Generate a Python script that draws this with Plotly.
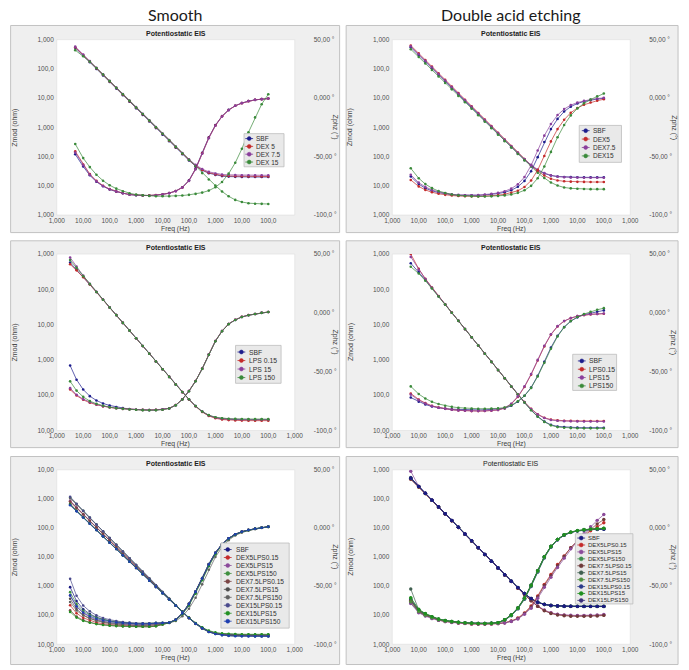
import plotly.graph_objects as go

# ---------------- data ----------------
FREQ_A = [0.005, 0.01, 0.0178, 0.0316, 0.0562, 0.1, 0.178, 0.316, 0.562, 1, 1.78, 3.16, 5.62, 10, 17.8, 31.6,
          56.2, 100, 178, 316, 562, 1000, 1780, 3160, 5620, 10000, 17800, 31600, 56200, 100000]
FREQ_B = [0.0032, 0.0056, 0.01, 0.0178, 0.0316, 0.0562, 0.1, 0.178, 0.316, 0.562, 1, 1.78, 3.16, 5.62, 10, 17.8,
          31.6, 56.2, 100, 178, 316, 562, 1000, 1780, 3160, 5620, 10000, 17800, 31600, 56200, 100000]

X_TICKVALS = [0.001, 0.01, 0.1, 1, 10, 100, 1000, 10000, 100000, 1000000]
X_TICKTEXT = ["1,000", "10,00", "100,0", "1,000", "10,00", "100,0", "1,000", "10,00", "100,0", "1,000"]
X_TICKTEXT_TL = ["1,000", "10,00", "100,0", "1,000", "10,00", "100,0", "1,000", "10,00", "100,0", ""]
Y_TICKVALS_1_1M = [1, 10, 100, 1000, 10000, 100000, 1000000]
Y_TICKTEXT_1_1M = ["1,000", "10,00", "100,0", "1,000", "10,00", "100,0", "1,000"]
Y_TICKVALS_10_1M = [10, 100, 1000, 10000, 100000, 1000000]
Y_TICKTEXT_10_1M = ["10,00", "100,0", "1,000", "10,00", "100,0", "1,000"]
Y_TICKVALS_10_10M = [10, 100, 1000, 10000, 100000, 1000000, 10000000]
Y_TICKTEXT_10_10M = ["10,00", "100,0", "1,000", "10,00", "100,0", "1,000", "10,00"]
PHZ_TICKVALS = [-100, -50, 0, 50]
PHZ_TICKTEXT = ["-100,0 °", "-50,00 °", "0,000 °", "50,00 °"]

# ---- Top-left: Smooth, DEX ----
TL_NAMES = ["SBF", "DEX 5", "DEX 7.5", "DEX 15"]
TL_SBF_ZMOD = [525000, 282000, 168000, 99800, 59500, 35500, 21100, 12600, 7500, 4470, 2660, 1590, 944, 563, 336, 201,
               121, 74, 47, 34, 27, 23.5, 21.5, 20.7, 20.3, 20.1, 20, 20, 20, 20]
TL_DEX5_ZMOD = [549000, 295000, 176000, 105000, 62300, 37100, 22100, 13200, 7860, 4680, 2790, 1660, 987, 589, 351, 210,
                126, 77, 49, 35, 28, 24.5, 22.5, 21.7, 21.3, 21.1, 21, 21, 21, 21]
TL_DEX75_ZMOD = [575000, 309000, 184000, 109000, 65300, 38900, 23100, 13800, 8230, 4900, 2920, 1740, 1030, 617, 367,
                 220, 132, 81, 52, 37.5, 30, 26.5, 24.5, 23.7, 23.3, 23.1, 23, 23, 23, 23]
TL_DEX15_ZMOD = [437000, 269000, 176000, 107000, 63800, 38000, 22600, 13500, 8040, 4790, 2850, 1700, 1010, 603, 359,
                 214, 127, 76, 45.5, 27.2, 16.5, 10.2, 6.4, 4.4, 3.3, 2.8, 2.55, 2.45, 2.42, 2.4]
TL_SBF_ZPHZ = [-48.0, -58.5, -66.0, -71.5, -75.4, -78.1, -80.0, -81.4, -82.5, -83.0, -83.3, -83.3, -83.0, -82.4, -81.2,
               -79.4, -76.2, -70.3, -60.2, -46.8, -33.6, -23.1, -15.4, -10.1, -6.5, -4.2, -2.5, -1.5, -0.9, -0.4]
TL_DEX5_ZPHZ = [-45.5, -56.8, -65.0, -70.8, -74.9, -77.8, -79.8, -81.2, -82.4, -82.9, -83.2, -83.2, -82.9, -82.4, -81.2,
                -79.5, -76.4, -70.6, -60.6, -47.2, -34.0, -23.4, -15.6, -10.2, -6.6, -4.3, -2.6, -1.5, -0.9, -0.4]
TL_DEX75_ZPHZ = [-46.5, -57.5, -65.5, -71.1, -75.1, -77.9, -79.9, -81.3, -82.5, -83.0, -83.3, -83.3, -83.0, -82.5, -81.3,
                 -79.6, -76.5, -70.8, -60.9, -47.6, -34.3, -23.6, -15.7, -10.3, -6.6, -4.3, -2.6, -1.5, -0.9, -0.4]
TL_DEX15_ZPHZ = [-39.2, -51.3, -59.0, -65.5, -70.6, -74.5, -77.4, -79.6, -81.3, -82.5, -83.0, -83.6, -83.9, -83.9, -83.9,
                 -83.6, -83.3, -82.7, -81.9, -80.8, -79.1, -76.2, -71.7, -64.6, -55.3, -43.4, -29.2, -16.5, -5.2, 3.3]

# ---- Top-right: Double acid etching, DEX ----
TR_NAMES = ["SBF", "DEX5", "DEX7.5", "DEX15"]
TR_SBF_ZMOD = [549000, 295000, 176000, 105000, 62300, 37100, 22100, 13200, 7860, 4680, 2790, 1660, 987, 589, 351, 210,
               126, 77, 49, 34, 26.5, 22.5, 20.8, 20.1, 19.8, 19.6, 19.5, 19.5, 19.5, 19.5]
TR_DEX5_ZMOD = [631000, 338000, 200000, 119000, 70800, 42000, 24900, 14800, 8810, 5220, 3100, 1850, 1100, 650, 386, 231,
                137, 82, 50, 32, 22.5, 17.5, 15.3, 14.3, 13.9, 13.7, 13.6, 13.5, 13.5, 13.5]
TR_DEX75_ZMOD = [588000, 316000, 188000, 112000, 66800, 39800, 23700, 14100, 8420, 5020, 2980, 1780, 1060, 631, 376,
                 225, 135, 82, 52, 36, 27.5, 23, 20.6, 19.7, 19.3, 19.1, 19, 19, 19, 19]
TR_DEX15_ZMOD = [468000, 254000, 152000, 91600, 55100, 33000, 19900, 11900, 7180, 4310, 2590, 1560, 935, 561, 337, 203,
                 122, 74, 45, 28, 18.5, 13, 10.2, 8.8, 8.2, 7.9, 7.8, 7.7, 7.7, 7.7]
TR_SBF_ZPHZ = [-67.0, -73.5, -77.0, -79.3, -80.8, -81.8, -82.6, -83.0, -83.2, -83.2, -83.1, -82.8, -82.3, -81.6, -80.5,
               -78.8, -75.8, -70.8, -62.5, -50.5, -37.5, -26.5, -17.8, -11.5, -7.3, -4.6, -2.9, -1.7, -0.8, -0.2]
TR_DEX5_ZPHZ = [-70.0, -75.5, -78.5, -80.5, -81.8, -82.7, -83.3, -83.7, -83.9, -84.0, -84.0, -83.8, -83.5, -83.0, -82.2,
                -81.0, -79.2, -76.0, -70.5, -61.5, -49.5, -37.0, -26.5, -18.5, -12.5, -8.5, -5.7, -3.7, -2.2, -1.0]
TR_DEX75_ZPHZ = [-65.5, -72.3, -75.9, -78.5, -80.2, -81.3, -82.2, -82.7, -83.0, -83.0, -82.9, -82.5, -81.9, -81.0, -79.6,
                 -77.4, -73.7, -67.5, -57.5, -44.8, -32.1, -22.2, -14.5, -9.4, -6.0, -3.8, -2.4, -1.2, -0.4, 0.2]
TR_DEX15_ZPHZ = [-60.0, -68.5, -73.5, -77.0, -79.5, -81.2, -82.4, -83.2, -83.7, -84.0, -84.1, -84.1, -84.0, -83.7, -83.2,
                 -82.4, -81.0, -78.8, -75.0, -68.5, -58.5, -46.0, -33.5, -23.0, -14.8, -8.8, -4.5, -1.2, 1.6, 3.9]

# ---- Middle-left: Smooth, LPS ----
ML_NAMES = ["SBF", "LPS 0.15", "LPS 15", "LPS 150"]
ML_SBF_ZMOD = [575000, 365000, 226000, 139000, 84100, 50800, 30700, 18600, 11200, 6780, 4100, 2480, 1500, 904, 546, 330,
               200, 121, 76, 49, 34, 26.5, 23, 21.3, 20.6, 20.3, 20.1, 20, 20, 20, 20]
ML_LPS015_ZMOD = [513000, 345000, 221000, 137000, 84100, 50800, 30700, 18600, 11200, 6780, 4100, 2480, 1500, 904, 546,
                  330, 200, 122, 75.5, 48.5, 33.5, 25.8, 22.2, 20.4, 19.7, 19.3, 19.1, 19, 19, 19, 19]
ML_LPS15_ZMOD = [794000, 440000, 245000, 143000, 85000, 51000, 30800, 18600, 11200, 6780, 4100, 2480, 1500, 904, 546,
                 330, 200, 123, 76.5, 49.5, 34.5, 27, 23.5, 21.8, 21.1, 20.8, 20.6, 20.5, 20.5, 20.5, 20.5]
ML_LPS150_ZMOD = [676000, 405000, 236000, 141000, 84500, 50800, 30700, 18600, 11200, 6780, 4100, 2480, 1500, 904, 546,
                  330, 200, 123, 76.5, 49.5, 34.5, 27.2, 23.8, 22.2, 21.6, 21.3, 21.1, 21, 21, 21, 21]
ML_SBF_ZPHZ = [-44.8, -56.8, -65.2, -70.8, -74.5, -77.0, -78.7, -80.1, -80.9, -81.8, -82.3, -82.6, -82.7, -82.6, -82.2,
               -81.2, -78.5, -73.5, -66.5, -58.0, -47.5, -35.5, -24.0, -15.5, -9.5, -6.0, -3.5, -2.0, -1.0, 0.0, 0.7]
ML_LPS015_ZPHZ = [-65.2, -70.3, -73.9, -76.4, -78.1, -79.5, -80.4, -81.1, -81.6, -82.0, -82.3, -82.5, -82.6, -82.5,
                  -82.1, -81.1, -78.4, -73.4, -66.4, -57.9, -47.4, -35.4, -23.9, -15.4, -9.4, -5.9, -3.4, -1.9, -0.9,
                  0.1, 0.8]
ML_LPS15_ZPHZ = [-64.0, -69.6, -73.4, -76.0, -77.9, -79.3, -80.3, -81.0, -81.6, -82.0, -82.3, -82.5, -82.6, -82.5, -82.1,
                 -81.1, -78.4, -73.4, -66.4, -57.9, -47.4, -35.4, -23.9, -15.4, -9.4, -5.9, -3.4, -1.9, -0.9, 0.1, 0.8]
ML_LPS150_ZPHZ = [-58.2, -66.1, -71.4, -75.0, -77.3, -79.0, -80.2, -81.0, -81.6, -82.1, -82.4, -82.7, -82.8, -82.7,
                  -82.3, -81.3, -78.6, -73.6, -66.6, -58.1, -47.6, -35.6, -24.1, -15.6, -9.6, -6.0, -3.5, -2.0, -1.0,
                  0.0, 0.7]

# ---- Middle-right: Double acid etching, LPS ----
MR_NAMES = ["SBF", "LPS0.15", "LPS15", "LPS150"]
MR_SBF_ZMOD = [550000, 310000, 185000, 109000, 63600, 37200, 21800, 12800, 7470, 4380, 2560, 1500, 878, 514, 301, 177,
               104, 62, 38, 25, 18, 14.5, 13, 12.5, 12.2, 12.1, 12, 12, 12, 12]
MR_LPS015_ZMOD = [1000000, 380000, 200000, 112000, 64500, 37500, 21900, 12800, 7470, 4380, 2560, 1500, 878, 514, 301,
                  177, 105, 64, 41, 29, 23, 20.3, 19.3, 18.9, 18.7, 18.6, 18.5, 18.5, 18.5, 18.5]
MR_LPS15_ZMOD = [830000, 360000, 196000, 111000, 64000, 37300, 21800, 12800, 7470, 4380, 2560, 1500, 878, 514, 301, 177,
                 105, 64, 40.5, 28.5, 22.5, 19.8, 18.8, 18.4, 18.2, 18.1, 18, 18, 18, 18]
MR_LPS150_ZMOD = [437000, 280000, 176000, 106000, 63000, 37000, 21700, 12800, 7470, 4380, 2560, 1500, 878, 514, 301,
                  177, 104, 62, 37.5, 24.5, 17.5, 14, 12.5, 12, 11.7, 11.6, 11.5, 11.5, 11.5, 11.5]
MR_SBF_ZPHZ = [-72.0, -75.5, -77.9, -79.6, -80.7, -81.4, -81.9, -82.2, -82.4, -82.5, -82.5, -82.4, -82.2, -82.0, -81.2,
               -79.0, -75.5, -70.5, -63.5, -53.5, -41.5, -29.5, -19.5, -12.0, -7.0, -3.8, -1.5, -0.3, 0.9, 2.1]
MR_LPS015_ZPHZ = [-68.5, -73.6, -76.7, -79.0, -80.4, -81.5, -82.3, -82.9, -83.2, -83.5, -83.5, -83.4, -83.2, -82.6,
                  -81.0, -77.5, -71.5, -63.0, -52.5, -40.5, -28.5, -18.5, -11.5, -7.0, -4.5, -2.8, -1.9, -1.3, -1.0,
                  -0.7]
MR_LPS15_ZPHZ = [-69.5, -74.2, -77.1, -79.3, -80.6, -81.6, -82.4, -82.9, -83.2, -83.4, -83.4, -83.3, -83.1, -82.5, -80.8,
                 -77.2, -71.0, -62.5, -52.0, -40.0, -28.0, -18.2, -11.3, -6.9, -4.4, -2.7, -1.8, -1.2, -0.9, -0.5]
MR_LPS150_ZPHZ = [-62.5, -69.0, -72.8, -75.6, -77.5, -78.9, -79.9, -80.6, -81.1, -81.4, -81.5, -81.5, -81.4, -81.2,
                  -80.5, -78.6, -75.2, -70.5, -63.8, -54.0, -42.5, -30.5, -20.0, -12.3, -7.0, -3.5, -1.0, 1.0, 2.6, 4.0]

# ---- Bottom: DEX + LPS combinations ----
B_NAMES = ["SBF", "DEX5LPS0.15", "DEX5LPS15", "DEX5LPS150", "DEX7.5LPS0.15", "DEX7.5LPS15", "DEX7.5LPS150",
           "DEX15LPS0.15", "DEX15LPS15", "DEX15LPS150"]

BL_SBF_ZMOD = [631000, 382000, 232000, 140000, 84900, 51400, 31200, 18900, 11400, 6930, 4200, 2540, 1540, 933, 565, 345,
               210, 130, 81, 52, 36.5, 27.5, 23.5, 21.5, 20.5, 20, 19.8, 19.6, 19.5, 19.5, 19.5]
BL_D5L015_ZMOD = [832000, 496000, 295000, 176000, 105000, 62500, 37200, 22200, 13200, 7890, 4700, 2800, 1670, 995, 593,
                  355, 214, 131, 80, 51.5, 35.5, 27.3, 23.4, 21.6, 20.8, 20.4, 20.2, 20.1, 20, 20, 20]
BL_D5L15_ZMOD = [870000, 505000, 297000, 176000, 105000, 62500, 37200, 22200, 13200, 7890, 4700, 2800, 1670, 995, 593,
                 355, 214, 131, 80.5, 52, 36.2, 28.2, 24.3, 22.6, 21.8, 21.4, 21.2, 21.1, 21, 21, 21]
BL_D5L150_ZMOD = [1120000, 657000, 385000, 225000, 132000, 77300, 45300, 26500, 15500, 9080, 5320, 3120, 1820, 1070,
                  625, 368, 218, 131, 79, 50, 34.5, 26.3, 22.4, 20.6, 19.8, 19.4, 19.2, 19.1, 19, 19, 19]
BL_D75L015_ZMOD = [800000, 488000, 293000, 176000, 105000, 62500, 37200, 22200, 13200, 7890, 4700, 2800, 1670, 995, 593,
                   355, 214, 131, 80.2, 51.8, 35.8, 27.7, 23.8, 22.1, 21.3, 20.9, 20.7, 20.6, 20.5, 20.5, 20.5]
BL_D75L15_ZMOD = [680000, 395000, 235000, 141000, 84900, 51400, 31200, 18900, 11400, 6930, 4200, 2540, 1540, 933, 565,
                  345, 210, 130, 80.5, 51.5, 36, 27, 23, 21, 20, 19.5, 19.3, 19.1, 19, 19, 19]
BL_D75L150_ZMOD = [1060000, 640000, 380000, 224000, 132000, 77300, 45300, 26500, 15500, 9080, 5320, 3120, 1820, 1070,
                   625, 368, 218, 132, 80.5, 52, 36, 28, 24.3, 22.6, 21.8, 21.4, 21.2, 21.1, 21, 21, 21]
BL_D15L015_ZMOD = [1180000, 675000, 390000, 226000, 132000, 77300, 45300, 26500, 15500, 9080, 5320, 3120, 1820, 1070,
                   625, 368, 218, 131, 79.5, 51, 35, 27, 23.3, 21.6, 20.8, 20.4, 20.2, 20.1, 20, 20, 20]
BL_D15L15_ZMOD = [631000, 382000, 232000, 140000, 84900, 51400, 31200, 18900, 11400, 6930, 4200, 2540, 1540, 933, 565,
                  345, 211, 131, 82, 54, 38, 29.5, 25.5, 23.6, 22.7, 22.3, 22.1, 22, 22, 22, 22]
BL_D15L150_ZMOD = [600000, 372000, 229000, 139000, 84900, 51400, 31200, 18900, 11400, 6930, 4200, 2540, 1540, 933, 565,
                   345, 210, 129, 80, 51, 35.5, 26.5, 22.4, 20.4, 19.4, 18.9, 18.7, 18.6, 18.5, 18.5, 18.5]

BL_SBF_ZPHZ = [-50.9, -62.9, -69.9, -74.0, -76.8, -78.7, -80.0, -80.9, -81.6, -82.0, -82.5, -82.5, -82.5, -82.0, -81.8,
               -81.5, -79.0, -73.5, -65.5, -55.0, -43.5, -31.5, -21.5, -14.0, -9.0, -5.5, -3.3, -1.8, -0.7, 0.2, 1.0]
BL_D5L015_ZPHZ = [-66.5, -73.3, -77.3, -79.6, -81.3, -82.3, -83.1, -83.6, -84.0, -84.2, -84.5, -84.5, -84.5, -84.0,
                  -82.8, -81.5, -79.0, -73.5, -65.5, -55.0, -43.5, -31.5, -21.5, -14.0, -9.0, -5.5, -3.3, -1.8, -0.7,
                  0.2, 1.0]
BL_D5L15_ZPHZ = [-58.0, -67.7, -73.3, -76.6, -78.9, -80.4, -81.5, -82.2, -82.7, -83.1, -83.5, -83.5, -83.5, -83.0, -82.3,
                 -81.5, -79.2, -74.0, -66.5, -56.0, -44.5, -32.5, -22.3, -14.5, -9.3, -5.7, -3.4, -1.9, -0.8, 0.1, 0.9]
BL_D5L150_ZPHZ = [-55.2, -65.4, -71.3, -74.8, -77.2, -78.8, -79.9, -80.7, -81.2, -81.6, -82.0, -82.0, -82.0, -81.5,
                  -81.5, -81.3, -78.8, -73.2, -65.0, -54.5, -43.0, -31.0, -21.2, -13.8, -8.9, -5.4, -3.2, -1.7, -0.6,
                  0.3, 1.1]
BL_D75L015_ZPHZ = [-70.8, -76.2, -79.3, -81.2, -82.4, -83.3, -83.9, -84.3, -84.6, -84.8, -85.0, -85.0, -85.0, -84.5,
                   -83.0, -81.5, -79.0, -73.5, -65.5, -55.0, -43.5, -31.5, -21.5, -14.0, -9.0, -5.5, -3.3, -1.8, -0.7,
                   0.2, 1.0]
BL_D75L15_ZPHZ = [-60.9, -69.7, -74.8, -77.8, -79.8, -81.2, -82.2, -82.8, -83.3, -83.7, -84.0, -84.0, -84.0, -83.5,
                  -82.5, -81.5, -79.0, -73.5, -65.5, -55.0, -43.5, -31.5, -21.5, -14.0, -9.0, -5.5, -3.3, -1.8, -0.7,
                  0.2, 1.0]
BL_D75L150_ZPHZ = [-63.7, -71.0, -75.3, -77.8, -79.5, -80.7, -81.5, -82.0, -82.4, -82.7, -83.0, -83.0, -83.0, -82.5,
                   -82.2, -81.8, -80.0, -76.0, -69.5, -60.0, -48.5, -36.0, -25.0, -16.5, -10.5, -6.5, -4.0, -2.3,
                   -1.0, 0.0, 0.8]
BL_D15L015_ZPHZ = [-43.8, -58.3, -66.7, -71.7, -75.1, -77.4, -78.9, -80.1, -80.9, -81.4, -82.0, -82.0, -82.0, -81.5,
                   -81.5, -81.3, -78.8, -73.2, -65.0, -54.5, -43.0, -31.0, -21.2, -13.8, -8.9, -5.4, -3.2, -1.7, -0.6,
                   0.3, 1.1]
BL_D15L15_ZPHZ = [-72.2, -77.1, -79.9, -81.5, -82.7, -83.5, -84.0, -84.4, -84.6, -84.8, -85.0, -85.0, -85.0, -84.5,
                  -83.0, -81.6, -79.3, -74.2, -66.8, -56.5, -45.0, -33.0, -22.7, -14.8, -9.5, -5.8, -3.5, -2.0, -0.8,
                  0.1, 0.9]
BL_D15L150_ZPHZ = [-58.0, -67.3, -72.7, -75.9, -78.1, -79.6, -80.5, -81.3, -81.8, -82.1, -82.5, -82.5, -82.5, -82.0,
                   -81.8, -81.5, -79.0, -73.5, -65.5, -55.0, -43.5, -31.5, -21.5, -14.0, -9.0, -5.5, -3.3, -1.8, -0.7,
                   0.2, 1.0]

BR_SBF_ZMOD = [520000, 268000, 156000, 90800, 53000, 31000, 18100, 10600, 6180, 3620, 2110, 1230, 721, 422, 246, 148,
               89, 55.5, 37.2, 27.9, 23.5, 21.6, 20.7, 20.3, 20.2, 20, 20, 20, 20, 20]
BR_D5L015_ZMOD = [480000, 258000, 152000, 89000, 52000, 30400, 17700, 10400, 6060, 3540, 2070, 1210, 707, 414, 242, 144,
                  85, 51, 31.4, 20.4, 14.6, 11.8, 10.5, 9.9, 9.6, 9.5, 9.5, 9.6, 9.8, 10.2]
BR_D5L15_ZMOD = [890000, 270000, 157000, 91500, 53300, 31100, 18200, 10600, 6200, 3630, 2120, 1240, 724, 424, 247, 146,
                 86, 51.5, 31.8, 20.8, 15, 12.1, 10.8, 10.2, 9.9, 9.8, 9.8, 9.9, 10.1, 10.5]
BR_D5L150_ZMOD = [505000, 263000, 154000, 89900, 52500, 30700, 17900, 10500, 6120, 3580, 2090, 1220, 714, 418, 244,
                  147, 88.5, 55.3, 37, 27.8, 23.4, 21.5, 20.6, 20.2, 20.1, 20, 20, 20, 20, 20]
BR_D75L015_ZMOD = [470000, 255000, 151000, 88500, 51800, 30300, 17700, 10400, 6050, 3540, 2070, 1210, 706, 413, 241,
                   143, 84.5, 50.5, 31, 20, 14.2, 11.4, 10.1, 9.5, 9.2, 9.1, 9.1, 9.2, 9.4, 9.8]
BR_D75L15_ZMOD = [540000, 266000, 155000, 90500, 52900, 30900, 18000, 10600, 6160, 3600, 2100, 1230, 718, 420, 245, 148,
                  89, 55.6, 37.3, 28, 23.7, 21.8, 20.9, 20.5, 20.4, 20.3, 20.3, 20.3, 20.3, 20.3]
BR_D75L150_ZMOD = [495000, 261000, 153000, 89400, 52200, 30500, 17800, 10400, 6090, 3560, 2080, 1210, 710, 416, 243,
                   146, 88, 54.8, 36.6, 27.4, 23, 21.1, 20.2, 19.8, 19.7, 19.6, 19.6, 19.6, 19.6, 19.6]
BR_D15L015_ZMOD = [510000, 264000, 154000, 90000, 52600, 30700, 17900, 10500, 6130, 3590, 2090, 1220, 715, 419, 244,
                   147, 88.6, 55.4, 37.1, 27.8, 23.4, 21.5, 20.6, 20.2, 20.1, 20, 20, 20, 20, 20]
BR_D15L15_ZMOD = [500000, 262000, 153500, 89700, 52400, 30600, 17900, 10500, 6110, 3570, 2090, 1220, 713, 417, 244, 147,
                  88.4, 55.2, 37, 27.9, 23.6, 21.7, 20.8, 20.4, 20.3, 20.2, 20.2, 20.2, 20.2, 20.2]
BR_D15L150_ZMOD = [515000, 265000, 155000, 90300, 52700, 30800, 18000, 10500, 6140, 3590, 2100, 1220, 716, 419, 245,
                   147.5, 88.8, 55.5, 37.2, 27.9, 23.5, 21.6, 20.7, 20.3, 20.2, 20.1, 20.1, 20.1, 20.1, 20.1]

BR_SBF_ZPHZ = [-62.0, -71.0, -74.4, -76.8, -78.6, -79.8, -80.6, -81.2, -81.6, -82.0, -82.2, -82.2, -82.0, -81.5, -79.0,
               -75.0, -69.0, -60.5, -49.5, -37.0, -25.0, -16.0, -10.0, -6.0, -3.8, -2.5, -1.8, -1.4, -1.2, -1.0]
BR_D5L015_ZPHZ = [-63.0, -71.8, -75.1, -77.4, -79.2, -80.4, -81.1, -81.7, -82.1, -82.5, -82.6, -82.6, -82.5, -82.2,
                  -81.5, -80.0, -77.5, -73.0, -67.0, -58.5, -48.5, -40.0, -31.5, -24.0, -17.0, -11.5, -7.0, -2.5, 1.0,
                  4.4]
BR_D5L15_ZPHZ = [-65.0, -72.9, -75.8, -78.0, -79.5, -80.6, -81.3, -81.8, -82.2, -82.5, -82.6, -82.6, -82.5, -82.3, -81.7,
                 -80.4, -78.3, -74.2, -69.0, -60.5, -51.0, -42.5, -34.0, -26.0, -18.0, -11.0, -5.0, 1.0, 6.5, 11.5]
BR_D5L150_ZPHZ = [-60.5, -70.2, -73.8, -76.4, -78.3, -79.6, -80.5, -81.1, -81.6, -82.0, -82.3, -82.3, -82.1, -81.6,
                  -79.2, -75.3, -69.4, -61.0, -50.0, -37.5, -25.5, -16.3, -10.0, -5.8, -3.5, -2.2, -1.4, -0.9, -0.7,
                  -0.5]
BR_D75L015_ZPHZ = [-62.5, -71.5, -74.9, -77.3, -79.1, -80.3, -81.1, -81.7, -82.1, -82.5, -82.6, -82.6, -82.5, -82.2,
                   -81.6, -80.2, -77.9, -73.6, -68.0, -59.4, -49.5, -41.0, -32.5, -24.5, -17.0, -11.0, -6.0, -1.0,
                   3.5, 7.2]
BR_D75L15_ZPHZ = [-52.5, -70.5, -74.0, -76.5, -78.4, -79.7, -80.5, -81.1, -81.6, -82.0, -82.1, -82.1, -81.9, -81.4,
                  -78.8, -74.7, -68.6, -60.0, -49.0, -36.5, -24.6, -15.7, -9.8, -5.9, -3.7, -2.4, -1.6, -1.1, -0.8,
                  -0.5]
BR_D75L150_ZPHZ = [-63.5, -71.8, -75.0, -77.2, -78.9, -80.0, -80.7, -81.3, -81.6, -82.0, -82.2, -82.2, -82.0, -81.5,
                   -79.0, -75.0, -69.0, -60.5, -49.5, -37.0, -25.0, -16.0, -10.0, -6.0, -3.8, -2.5, -1.7, -1.2, -0.8,
                   -0.4]
BR_D15L015_ZPHZ = [-61.5, -70.7, -74.2, -76.7, -78.5, -79.7, -80.6, -81.2, -81.6, -82.0, -82.3, -82.3, -82.1, -81.6,
                   -79.3, -75.5, -69.6, -61.3, -50.4, -38.0, -25.8, -16.6, -10.4, -6.3, -4.0, -2.7, -1.9, -1.5, -1.3,
                   -1.1]
BR_D15L15_ZPHZ = [-60.0, -69.9, -73.6, -76.3, -78.3, -79.6, -80.5, -81.1, -81.6, -82.0, -82.1, -82.1, -81.9, -81.4,
                  -78.9, -74.8, -68.8, -60.2, -49.2, -36.7, -24.7, -15.8, -9.8, -5.8, -3.6, -2.3, -1.5, -1.0, -0.6,
                  -0.2]
BR_D15L150_ZPHZ = [-64.5, -72.4, -75.4, -77.5, -79.0, -80.1, -80.8, -81.3, -81.7, -82.0, -82.2, -82.2, -82.0, -81.5,
                   -79.0, -75.0, -69.0, -60.5, -49.5, -37.0, -25.0, -16.0, -10.0, -6.0, -3.8, -2.5, -1.8, -1.4, -1.2,
                   -1.0]

# ---------------- styling ----------------
W, H = 689, 670
FONT = "Liberation Sans, Arial, sans-serif"
COLORS_4 = ["#1c1c8c", "#c42a2a", "#8a3f9c", "#3a8a3a"]
COLORS_BL = ["#1a1a80", "#c42a2a", "#8b4a9a", "#3f8f3f", "#7a4545", "#4d4d4d", "#606060", "#4a4a8c", "#239023",
             "#1f3fb0"]
COLORS_BR = ["#1a1a80", "#c42a2a", "#8b4a9a", "#3c8c4c", "#6e3a3a", "#3f5f4f", "#4f8f3f", "#2a3a8a", "#1f8f1f",
             "#3a2f7a"]

COL_X = [(50, 294), (394, 638)]          # plot-area x (px)
ROW_Y = [(36, 213.3), (252.7, 431), (470.7, 647)]  # plot-area y (px)
FRAME_X = [(2.7, 340), (346.7, 687)]
FRAME_Y = [(21.7, 231), (239.3, 448.3), (457.3, 667.5)]

ORDER_4 = [0, 1, 2, 3]
ORDER_10 = list(range(10))

panels = [
    dict(col=0, row=0, freq=FREQ_A, names=TL_NAMES, colors=COLORS_4,
         zmod=[TL_SBF_ZMOD, TL_DEX5_ZMOD, TL_DEX75_ZMOD, TL_DEX15_ZMOD],
         zphz=[TL_SBF_ZPHZ, TL_DEX5_ZPHZ, TL_DEX75_ZPHZ, TL_DEX15_ZPHZ],
         yrange=[0, 6], ytv=Y_TICKVALS_1_1M, ytt=Y_TICKTEXT_1_1M, xtt=X_TICKTEXT_TL, bold=True,
         zorder=ORDER_4, porder=ORDER_4,
         leg=dict(box=(242, 131, 283, 164.5), y0=136, dy=7.9, mx=247.3, tx=252.3, fs=6.5), msize=2.6),
    dict(col=1, row=0, freq=FREQ_A, names=TR_NAMES, colors=COLORS_4,
         zmod=[TR_SBF_ZMOD, TR_DEX5_ZMOD, TR_DEX75_ZMOD, TR_DEX15_ZMOD],
         zphz=[TR_SBF_ZPHZ, TR_DEX5_ZPHZ, TR_DEX75_ZPHZ, TR_DEX15_ZPHZ],
         yrange=[0, 6], ytv=Y_TICKVALS_1_1M, ytt=Y_TICKTEXT_1_1M, xtt=X_TICKTEXT, bold=True,
         zorder=ORDER_4, porder=ORDER_4,
         leg=dict(box=(585.7, 122.7, 629, 160), y0=128, dy=8.5, mx=592.3, tx=597.3, fs=6.5), msize=2.6),
    dict(col=0, row=1, freq=FREQ_B, names=ML_NAMES, colors=COLORS_4,
         zmod=[ML_SBF_ZMOD, ML_LPS015_ZMOD, ML_LPS15_ZMOD, ML_LPS150_ZMOD],
         zphz=[ML_SBF_ZPHZ, ML_LPS015_ZPHZ, ML_LPS15_ZPHZ, ML_LPS150_ZPHZ],
         yrange=[1, 6], ytv=Y_TICKVALS_10_1M, ytt=Y_TICKTEXT_10_1M, xtt=X_TICKTEXT, bold=True,
         zorder=ORDER_4, porder=ORDER_4,
         leg=dict(box=(233.3, 345, 280, 383.3), y0=351.7, dy=8.6, mx=239.3, tx=245, fs=6.8), msize=2.6),
    dict(col=1, row=1, freq=FREQ_A, names=MR_NAMES, colors=COLORS_4,
         zmod=[MR_SBF_ZMOD, MR_LPS015_ZMOD, MR_LPS15_ZMOD, MR_LPS150_ZMOD],
         zphz=[MR_SBF_ZPHZ, MR_LPS015_ZPHZ, MR_LPS15_ZPHZ, MR_LPS150_ZPHZ],
         yrange=[1, 6], ytv=Y_TICKVALS_10_1M, ytt=Y_TICKTEXT_10_1M, xtt=X_TICKTEXT, bold=True,
         zorder=ORDER_4, porder=ORDER_4,
         leg=dict(box=(579, 354, 624, 390.5), y0=360.7, dy=8.4, mx=588.3, tx=594, fs=6.8), msize=2.6),
    dict(col=0, row=2, freq=FREQ_B, names=B_NAMES, colors=COLORS_BL,
         zmod=[BL_SBF_ZMOD, BL_D5L015_ZMOD, BL_D5L15_ZMOD, BL_D5L150_ZMOD, BL_D75L015_ZMOD, BL_D75L15_ZMOD,
               BL_D75L150_ZMOD, BL_D15L015_ZMOD, BL_D15L15_ZMOD, BL_D15L150_ZMOD],
         zphz=[BL_SBF_ZPHZ, BL_D5L015_ZPHZ, BL_D5L15_ZPHZ, BL_D5L150_ZPHZ, BL_D75L015_ZPHZ, BL_D75L15_ZPHZ,
               BL_D75L150_ZPHZ, BL_D15L015_ZPHZ, BL_D15L15_ZPHZ, BL_D15L150_ZPHZ],
         yrange=[1, 7], ytv=Y_TICKVALS_10_10M, ytt=Y_TICKTEXT_10_10M, xtt=X_TICKTEXT, bold=True,
         zorder=ORDER_10, porder=ORDER_10,
         leg=dict(box=(218.3, 544.7, 288.3, 630.7), y0=551.3, dy=8.05, mx=225.3, tx=232, fs=6.6), msize=2.6),
    dict(col=1, row=2, freq=FREQ_A, names=B_NAMES, colors=COLORS_BR,
         zmod=[BR_SBF_ZMOD, BR_D5L015_ZMOD, BR_D5L15_ZMOD, BR_D5L150_ZMOD, BR_D75L015_ZMOD, BR_D75L15_ZMOD,
               BR_D75L150_ZMOD, BR_D15L015_ZMOD, BR_D15L15_ZMOD, BR_D15L150_ZMOD],
         zphz=[BR_SBF_ZPHZ, BR_D5L015_ZPHZ, BR_D5L15_ZPHZ, BR_D5L150_ZPHZ, BR_D75L015_ZPHZ, BR_D75L15_ZPHZ,
               BR_D75L150_ZPHZ, BR_D15L015_ZPHZ, BR_D15L15_ZPHZ, BR_D15L150_ZPHZ],
         yrange=[0, 6], ytv=Y_TICKVALS_1_1M, ytt=Y_TICKTEXT_1_1M, xtt=X_TICKTEXT, bold=False,
         zorder=[3, 8, 6, 5, 1, 2, 4, 9, 7, 0], porder=[9, 7, 5, 0, 1, 4, 2, 6, 3, 8],
         leg=dict(box=(581.7, 535.3, 640.7, 606.3), y0=539.7, dy=7.0, mx=587.7, tx=593, fs=6.0), msize=3.4),
]


def px(x):
    return x / W


def py(y):
    return 1 - y / H


fig = go.Figure()
layout = {}
shapes = []
annotations = []
tickfont = dict(family=FONT, size=6.5, color="#505050")

for i, p in enumerate(panels):
    n = i + 1
    sx = "" if n == 1 else str(n)
    yl = "" if n == 1 else str(n)
    yr = str(n + 6)
    x0, x1 = COL_X[p["col"]]
    t, b = ROW_Y[p["row"]]
    fx0, fx1 = FRAME_X[p["col"]]
    fy0, fy1 = FRAME_Y[p["row"]]

    # panel frame and white plot area
    shapes.append(dict(type="rect", xref="paper", yref="paper", x0=px(fx0), x1=px(fx1), y0=py(fy1), y1=py(fy0),
                       fillcolor="#efefef", line=dict(color="#c2c2c2", width=1), layer="below"))
    shapes.append(dict(type="rect", xref="paper", yref="paper", x0=px(x0), x1=px(x1), y0=py(b), y1=py(t),
                       fillcolor="white", line=dict(color="#dedede", width=0.6), layer="below"))

    for j in p["zorder"]:
        c = p["colors"][j]
        fig.add_trace(go.Scatter(x=p["freq"], y=p["zmod"][j], xaxis="x" + sx, yaxis="y" + yl,
                                 mode="lines+markers", name=p["names"][j], showlegend=False,
                                 line=dict(color=c, width=0.7), marker=dict(color=c, size=p["msize"])))
    for j in p["porder"]:
        c = p["colors"][j]
        fig.add_trace(go.Scatter(x=p["freq"], y=p["zphz"][j], xaxis="x" + sx, yaxis="y" + yr,
                                 mode="lines+markers", name=p["names"][j], showlegend=False,
                                 line=dict(color=c, width=0.7), marker=dict(color=c, size=p["msize"])))

    layout["xaxis" + sx] = dict(type="log", range=[-3, 6], domain=[px(x0), px(x1)], anchor="y" + yl,
                                tickmode="array", tickvals=X_TICKVALS, ticktext=p["xtt"], showgrid=False,
                                zeroline=False, showline=False, ticks="", tickfont=tickfont, fixedrange=True,
                                ticklabelstandoff=0)
    layout["yaxis" + yl] = dict(type="log", range=p["yrange"], domain=[py(b), py(t)], anchor="x" + sx,
                                tickmode="array", tickvals=p["ytv"], ticktext=p["ytt"], showgrid=False,
                                zeroline=False, showline=False, ticks="", tickfont=tickfont, fixedrange=True,
                                ticklabelstandoff=2)
    layout["yaxis" + yr] = dict(range=[-100, 50], overlaying="y" + yl, side="right", anchor="x" + sx,
                                tickmode="array", tickvals=PHZ_TICKVALS, ticktext=PHZ_TICKTEXT, showgrid=False,
                                zeroline=False, showline=False, ticks="", tickfont=tickfont,
                                ticklabelstandoff=18, fixedrange=True)

    cx = (x0 + x1) / 2
    title = "<b>Potentiostatic EIS</b>" if p["bold"] else "Potentiostatic EIS"
    annotations.append(dict(text=title, x=px(cx), y=py(t - 6.5), xref="paper", yref="paper", showarrow=False,
                            xanchor="center", yanchor="middle", font=dict(family=FONT, size=7, color="#222")))
    annotations.append(dict(text="Freq (Hz)", x=px(cx), y=py(b + 13.8), xref="paper", yref="paper",
                            showarrow=False, xanchor="center", yanchor="middle",
                            font=dict(family=FONT, size=6.8, color="#404040")))
    annotations.append(dict(text="Zmod (ohm)", x=px(fx0 + 4.8), y=py((t + b) / 2), xref="paper", yref="paper",
                            showarrow=False, textangle=-90, xanchor="center", yanchor="middle",
                            font=dict(family=FONT, size=7, color="#404040")))
    annotations.append(dict(text="Zphz (°)", x=px(fx1 - 5), y=py((t + b) / 2), xref="paper", yref="paper",
                            showarrow=False, textangle=90, xanchor="center", yanchor="middle",
                            font=dict(family=FONT, size=7, color="#404040")))

    # legend drawn as a boxed key
    lg = p["leg"]
    bx0, by0, bx1, by1 = lg["box"]
    shapes.append(dict(type="rect", xref="paper", yref="paper", x0=px(bx0), x1=px(bx1), y0=py(by1), y1=py(by0),
                       fillcolor="#e9e9e9", line=dict(color="#bdbdbd", width=0.8), layer="above"))
    r = 2.0
    for k, (name, c) in enumerate(zip(p["names"], p["colors"])):
        yy = lg["y0"] + k * lg["dy"]
        shapes.append(dict(type="line", xref="paper", yref="paper", x0=px(lg["mx"] - 4), x1=px(lg["mx"] + 4),
                           y0=py(yy), y1=py(yy), line=dict(color=c, width=0.8), layer="above"))
        shapes.append(dict(type="circle", xref="paper", yref="paper", x0=px(lg["mx"] - r), x1=px(lg["mx"] + r),
                           y0=py(yy + r), y1=py(yy - r), fillcolor=c, line=dict(color=c, width=0.5),
                           layer="above"))
        annotations.append(dict(text=name, x=px(lg["tx"]), y=py(yy), xref="paper", yref="paper", showarrow=False,
                                xanchor="left", yanchor="middle", font=dict(family=FONT, size=lg["fs"],
                                                                            color="#303030")))

annotations.append(dict(text="Smooth", x=px(171.5), y=py(11), xref="paper", yref="paper", showarrow=False,
                        xanchor="center", yanchor="middle", font=dict(family="Lato, Open Sans, sans-serif",
                                                                      size=16, color="#1a1a1a")))
annotations.append(dict(text="Double acid etching", x=px(515.7), y=py(11), xref="paper", yref="paper",
                        showarrow=False, xanchor="center", yanchor="middle",
                        font=dict(family="Lato, Open Sans, sans-serif", size=16, color="#1a1a1a")))

fig.update_layout(**layout)
fig.update_layout(width=W, height=H, autosize=False, margin=dict(l=0, r=0, t=0, b=0),
                  paper_bgcolor="white", plot_bgcolor="rgba(0,0,0,0)", showlegend=False,
                  shapes=shapes, annotations=annotations, hovermode=False)

fig.write_html("out.html", config={"displayModeBar": False},
               post_script="document.body.style.margin='0';document.body.style.padding='0';")
